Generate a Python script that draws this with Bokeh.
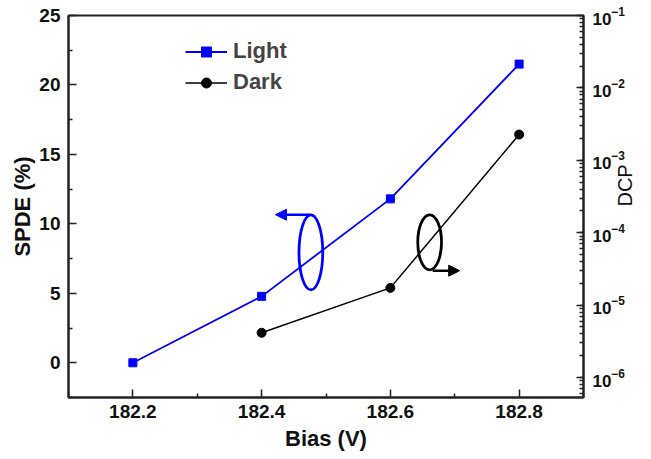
import math
from bokeh.plotting import figure
from bokeh.models import (Range1d, LogScale, LogAxis, FixedTicker, LogTicker,
                          Legend, LegendItem, Arrow, NormalHead)
from bokeh.embed import file_html
from bokeh.resources import INLINE

# ---- data ----
bias_light = [182.2, 182.4, 182.6, 182.8]
spde_light = [0.0, 4.78, 11.8, 21.5]
bias_dark = [182.4, 182.6, 182.8]
dcp_dark = [4.15e-6, 1.73e-5, 2.27e-3]
x_ticks = [182.2, 182.4, 182.6, 182.8]
x_minor = [182.1, 182.3, 182.5, 182.7, 182.9]
y_ticks = [0, 5, 10, 15, 20, 25]
y_minor = [-2.5, 2.5, 7.5, 12.5, 17.5, 22.5]

FONT = "Liberation Sans"

p = figure(width=651, height=459, output_backend="svg", toolbar_location=None,
           x_range=Range1d(182.1, 182.9), y_range=Range1d(-2.5, 25),
           min_border_left=68, min_border_right=68, min_border_top=15,
           min_border_bottom=62)
p.xgrid.visible = False
p.ygrid.visible = False
p.outline_line_color = "#222222"
p.outline_line_width = 2
p.background_fill_color = "white"
p.border_fill_color = "white"

p.extra_y_ranges = {"log": Range1d(10 ** -6.276, 0.1)}
p.extra_y_scales = {"log": LogScale()}

def style_axis(ax, size="19px", bold=True):
    ax.axis_line_color = "#222222"
    ax.axis_line_width = 2
    ax.major_tick_line_color = "#222222"
    ax.minor_tick_line_color = "#222222"
    ax.major_tick_line_width = 1.5
    ax.minor_tick_line_width = 1.5
    ax.major_tick_in = 8
    ax.major_tick_out = 0
    ax.minor_tick_in = 4
    ax.minor_tick_out = 0
    ax.major_label_text_font = FONT
    ax.major_label_text_font_size = size
    ax.major_label_text_font_style = "bold" if bold else "normal"
    ax.major_label_text_color = "#111111"
    ax.axis_label_text_font = FONT
    ax.axis_label_text_color = "#111111"

xa = p.xaxis[0]
style_axis(xa)
xa.ticker = FixedTicker(ticks=x_ticks, minor_ticks=x_minor)
xa.axis_label = "Bias (V)"
xa.axis_label_text_font_size = "22px"
xa.axis_label_text_font_style = "bold"
xa.major_label_standoff = 7
xa.axis_label_standoff = 5

ya = p.yaxis[0]
style_axis(ya)
ya.ticker = FixedTicker(ticks=y_ticks, minor_ticks=y_minor)
ya.axis_label = "SPDE (%)"
ya.axis_label_text_font_size = "22px"
ya.axis_label_text_font_style = "bold"
ya.major_label_standoff = 8
ya.axis_label_standoff = 1

ra = LogAxis(y_range_name="log", ticker=LogTicker(num_minor_ticks=10))
style_axis(ra, size="17px", bold=True)
ra.major_tick_in = 7
ra.minor_tick_in = 4
ra.major_label_standoff = 9
ra.axis_label = "DCP"
ra.axis_label_text_font_size = "20px"
ra.axis_label_text_font_style = "normal"
ra.axis_label_standoff = -3
ra.axis_label_text_line_height = 0.9
if hasattr(ra, "axis_label_orientation"):
    ra.axis_label_orientation = math.pi / 2
p.add_layout(ra, "right")

BLUE = "#0000FF"
l1 = p.line(bias_light, spde_light, line_color=BLUE, line_width=1.8)
m1 = p.scatter(bias_light, spde_light, marker="square", size=8,
               fill_color=BLUE, line_color=BLUE)
l2 = p.line(bias_dark, dcp_dark, line_color="black", line_width=1.5,
            y_range_name="log")
m2 = p.scatter(bias_dark, dcp_dark, marker="circle", size=9,
               fill_color="black", line_color="black", y_range_name="log")

# annotation ellipses with arrows
p.ellipse(x=[182.4765], y=[7.95], width=[0.0369], height=[5.40],
          fill_color=None, line_color=BLUE, line_width=2.8)
p.add_layout(Arrow(x_start=182.4754, y_start=10.66, x_end=182.4215, y_end=10.66,
                   line_color=BLUE, line_width=2.5,
                   end=NormalHead(size=11, fill_color=BLUE, line_color=BLUE)))
p.ellipse(x=[182.661], y=[8.67], width=[0.0369], height=[3.96],
          fill_color=None, line_color="black", line_width=2.8)
p.add_layout(Arrow(x_start=182.6657, y_start=6.63, x_end=182.7077, y_end=6.63,
                   line_color="black", line_width=2.5,
                   end=NormalHead(size=11, fill_color="black", line_color="black")))

legend = Legend(items=[LegendItem(label="Light", renderers=[l1, m1]),
                       LegendItem(label="Dark", renderers=[l2, m2])],
                location=(117, 302), margin=0, padding=0, spacing=5,
                glyph_width=42, glyph_height=25, label_height=25,
                label_standoff=6, label_text_font=FONT,
                label_text_font_size="22px", label_text_font_style="bold",
                border_line_color=None, background_fill_alpha=0)
p.add_layout(legend)

open("out.html", "w").write(file_html(p, INLINE))
